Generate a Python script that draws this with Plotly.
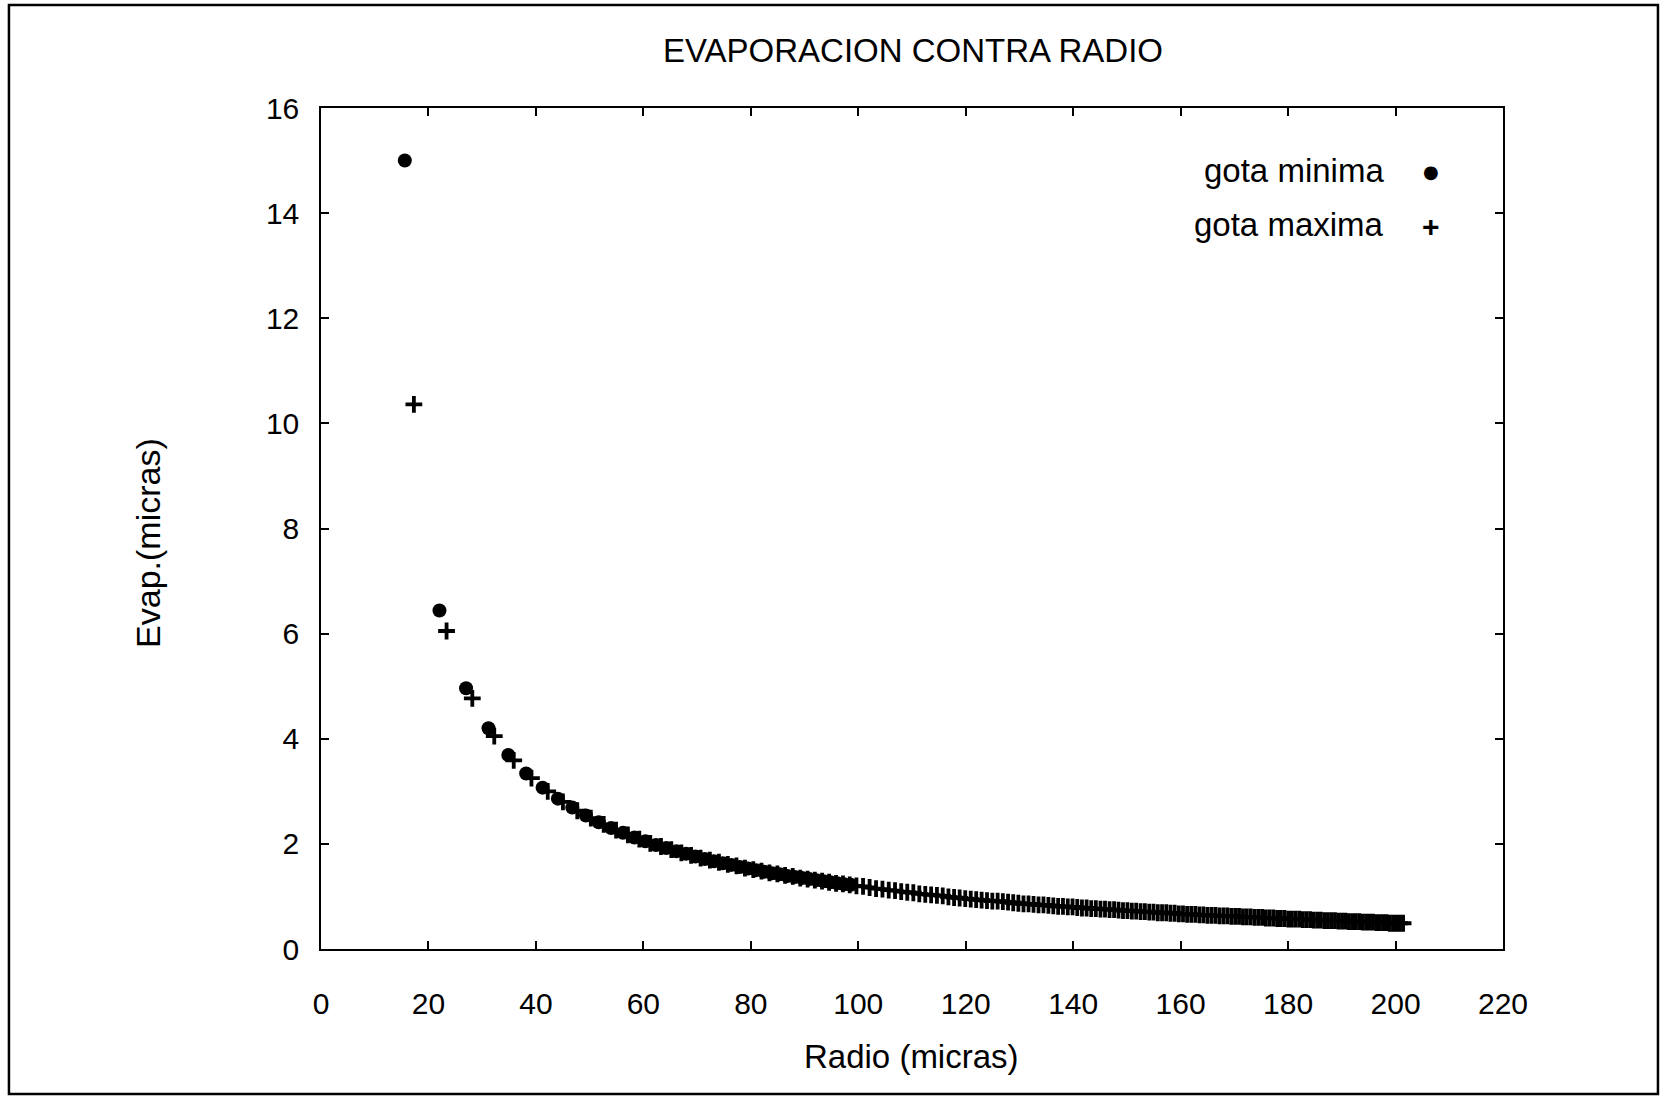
import plotly.graph_objects as go

# ---- data ----
# "gota minima" dots: only present up to about r = 99 in the reference
radio_min = [15.6, 22.05, 27.0, 31.18, 34.86, 38.18, 41.24, 44.09, 46.77, 49.3,
             51.7, 54.0, 56.21, 58.33, 60.37, 62.35, 64.27, 66.14, 67.95, 69.71,
             71.44, 73.12, 74.76, 76.37, 77.94, 79.49, 81.0, 82.49, 83.95, 85.38,
             86.79, 88.18, 89.55, 90.9, 92.22, 93.53, 94.82, 96.09, 97.35, 98.59]
evap_min = [15.0, 6.44, 4.96, 4.2, 3.69, 3.34, 3.07, 2.86, 2.69, 2.54,
            2.41, 2.3, 2.21, 2.12, 2.05, 1.98, 1.92, 1.86, 1.81, 1.76,
            1.71, 1.67, 1.63, 1.6, 1.56, 1.53, 1.5, 1.47, 1.44, 1.42,
            1.39, 1.37, 1.35, 1.33, 1.31, 1.29, 1.27, 1.25, 1.23, 1.22]

radio_max = [17.29, 23.37, 28.16, 32.25, 35.87, 39.17, 42.2, 45.03, 47.7, 50.22,
             52.62, 54.92, 57.12, 59.25, 61.29, 63.28, 65.2, 67.07, 68.88, 70.65,
             72.38, 74.07, 75.72, 77.33, 78.91, 80.46, 81.98, 83.47, 84.94, 86.38,
             87.8, 89.2, 90.57, 91.92, 93.26, 94.57, 95.87, 97.15, 98.41, 99.66,
             100.89, 102.11, 103.31, 104.5, 105.67, 106.84, 107.99, 109.12, 110.25, 111.36,
             112.47, 113.56, 114.64, 115.72, 116.78, 117.83, 118.87, 119.91, 120.93, 121.95,
             122.96, 123.96, 124.95, 125.94, 126.91, 127.88, 128.84, 129.8, 130.75, 131.69,
             132.62, 133.55, 134.47, 135.39, 136.3, 137.2, 138.1, 138.99, 139.88, 140.76,
             141.63, 142.5, 143.36, 144.22, 145.08, 145.92, 146.77, 147.61, 148.44, 149.27,
             150.1, 150.92, 151.73, 152.55, 153.35, 154.16, 154.95, 155.75, 156.54, 157.33,
             158.11, 158.89, 159.67, 160.44, 161.2, 161.97, 162.73, 163.49, 164.24, 164.99,
             165.74, 166.48, 167.22, 167.96, 168.69, 169.42, 170.15, 170.87, 171.6, 172.31,
             173.03, 173.74, 174.45, 175.16, 175.86, 176.56, 177.26, 177.96, 178.65, 179.34,
             180.03, 180.71, 181.39, 182.07, 182.75, 183.42, 184.1, 184.77, 185.43, 186.1,
             186.76, 187.42, 188.08, 188.73, 189.39, 190.04, 190.69, 191.33, 191.98, 192.62,
             193.26, 193.9, 194.53, 195.17, 195.8, 196.43, 197.06, 197.68, 198.31, 198.93,
             199.55, 200.16, 200.78, 201.4]
evap_max = [10.36, 6.05, 4.77, 4.05, 3.59, 3.25, 3.0, 2.8, 2.63, 2.49,
            2.37, 2.26, 2.17, 2.09, 2.01, 1.95, 1.89, 1.83, 1.78, 1.73,
            1.69, 1.65, 1.61, 1.58, 1.54, 1.51, 1.48, 1.45, 1.43, 1.4,
            1.38, 1.35, 1.33, 1.31, 1.29, 1.27, 1.25, 1.24, 1.22, 1.2,
            1.19, 1.17, 1.15, 1.14, 1.12, 1.11, 1.09, 1.08, 1.07, 1.05,
            1.04, 1.03, 1.02, 1.01, 0.99, 0.98, 0.97, 0.96, 0.95, 0.94,
            0.93, 0.92, 0.91, 0.91, 0.9, 0.89, 0.88, 0.87, 0.86, 0.86,
            0.85, 0.84, 0.84, 0.83, 0.82, 0.81, 0.81, 0.8, 0.8, 0.79,
            0.78, 0.78, 0.77, 0.77, 0.76, 0.76, 0.75, 0.75, 0.74, 0.73,
            0.73, 0.72, 0.72, 0.71, 0.71, 0.7, 0.7, 0.69, 0.69, 0.69,
            0.68, 0.68, 0.67, 0.67, 0.66, 0.66, 0.66, 0.65, 0.65, 0.64,
            0.64, 0.64, 0.63, 0.63, 0.63, 0.62, 0.62, 0.62, 0.61, 0.61,
            0.61, 0.6, 0.6, 0.6, 0.59, 0.59, 0.59, 0.58, 0.58, 0.58,
            0.57, 0.57, 0.57, 0.57, 0.56, 0.56, 0.56, 0.55, 0.55, 0.55,
            0.54, 0.54, 0.54, 0.54, 0.53, 0.53, 0.53, 0.52, 0.52, 0.52,
            0.52, 0.51, 0.51, 0.51, 0.51, 0.5, 0.5, 0.5, 0.5, 0.49,
            0.49, 0.49, 0.49, 0.49]

x_ticks = [0, 20, 40, 60, 80, 100, 120, 140, 160, 180, 200, 220]
y_ticks = [0, 2, 4, 6, 8, 10, 12, 14, 16]

FONT = "Liberation Sans, Arial, sans-serif"

fig = go.Figure()
fig.add_trace(go.Scatter(
    x=radio_min, y=evap_min, mode="markers", name="gota minima", showlegend=False,
    marker=dict(symbol="circle", size=14, color="black", line=dict(width=0)),
))
fig.add_trace(go.Scatter(
    x=radio_max, y=evap_max, mode="markers", name="gota maxima", showlegend=False,
    marker=dict(symbol="cross-thin", size=12, color="black",
                line=dict(color="black", width=3.8)),
))

axis_common = dict(
    showline=True, linecolor="black", linewidth=1.5, mirror="ticks",
    ticks="inside", ticklen=8, tickwidth=1.5, tickcolor="black",
    showgrid=False, zeroline=False,
    tickfont=dict(family=FONT, size=30, color="black"),
)

fig.update_layout(
    width=1661, height=1098,
    margin=dict(l=321, r=158, t=108, b=149),
    paper_bgcolor="white", plot_bgcolor="white",
    showlegend=False,
    xaxis=dict(range=[0, 220], tickvals=x_ticks, ticklabelstandoff=27, **axis_common),
    yaxis=dict(range=[0, 16], tickvals=y_ticks, ticklabelstandoff=14, **axis_common),
    annotations=[
        dict(text="EVAPORACION CONTRA RADIO", x=0.5008, y=1.0678, xref="paper", yref="paper",
             xanchor="center", yanchor="middle", showarrow=False,
             font=dict(family=FONT, size=33, color="black")),
        dict(text="Radio (micras)", x=0.4992, y=-0.1284, xref="paper", yref="paper",
             xanchor="center", yanchor="middle", showarrow=False,
             font=dict(family=FONT, size=33, color="black")),
        dict(text="Evap.(micras)", x=-0.1464, y=0.4828, xref="paper", yref="paper",
             xanchor="center", yanchor="middle", showarrow=False, textangle=-90,
             font=dict(family=FONT, size=34, color="black")),
        dict(text="gota minima", x=0.901, y=0.9257, xref="paper", yref="paper",
             xanchor="right", yanchor="middle", showarrow=False,
             font=dict(family=FONT, size=33, color="black")),
        dict(text="gota maxima", x=0.901, y=0.8614, xref="paper", yref="paper",
             xanchor="right", yanchor="middle", showarrow=False,
             font=dict(family=FONT, size=33, color="black")),
        dict(text="●", x=0.9391, y=0.925, xref="paper", yref="paper",
             xanchor="center", yanchor="middle", showarrow=False,
             font=dict(family="DejaVu Sans", size=18, color="black")),
        dict(text="<b>+</b>", x=0.9391, y=0.8589, xref="paper", yref="paper",
             xanchor="center", yanchor="middle", showarrow=False,
             font=dict(family=FONT, size=30, color="black")),
    ],
    shapes=[
        dict(type="rect", xref="paper", yref="paper",
             x0=-0.264, x1=1.1311, y0=-0.1724, y1=1.1225,
             line=dict(color="black", width=2.5), fillcolor="rgba(0,0,0,0)", layer="below"),
    ],
)

fig.write_html("out.html")
